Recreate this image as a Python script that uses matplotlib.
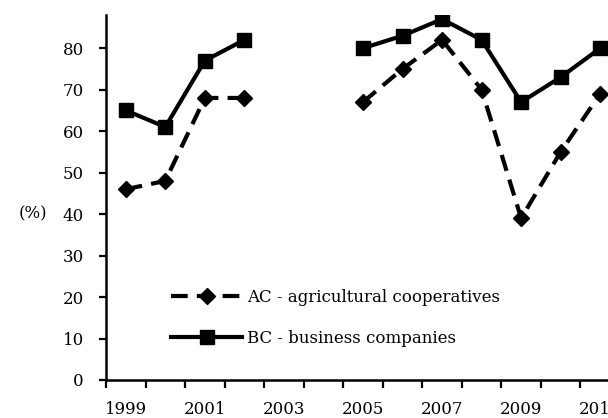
import numpy as np
import matplotlib
matplotlib.use('Agg')
import matplotlib.pyplot as plt

plt.rcParams['font.family'] = ['DejaVu Serif']

YEARS = list(range(1999, 2012))
# AC - agricultural cooperatives (no data for 2003, 2004)
AC = [46, 48, 68, 68, np.nan, np.nan, 67, 75, 82, 70, 39, 55, 69]
# BC - business companies
BC = [65, 61, 77, 82, np.nan, np.nan, 80, 83, 87, 82, 67, 73, 80]
YTICKS = [0, 10, 20, 30, 40, 50, 60, 70, 80]

FS = 12


def main():
    fig = plt.figure(figsize=(6.08, 4.18), dpi=100)
    ax = fig.add_axes([106 / 608, 38 / 418, 514 / 608, 365 / 418])

    x = np.arange(len(YEARS))
    ax.plot(x, AC, color='black', lw=3, dashes=(4, 2.2),
            marker='D', ms=8, label='AC - agricultural cooperatives')
    ax.plot(x, BC, color='black', lw=3,
            marker='s', ms=10.5, label='BC - business companies')

    ax.set_xlim(-0.5, len(YEARS) - 0.5)
    ax.set_ylim(0, 88)

    # tick marks at category boundaries, labels at category centres
    ax.set_xticks(np.arange(len(YEARS) + 1) - 0.5)
    ax.set_xticklabels([])
    ax.set_xticks(x[::2], minor=True)
    ax.set_xticklabels([str(y) for y in YEARS[::2]], minor=True)
    ax.tick_params(axis='x', which='major', direction='out', length=6, width=1.6)
    ax.tick_params(axis='x', which='minor', length=0, pad=15, labelsize=FS)

    ax.set_yticks(YTICKS)
    ax.tick_params(axis='y', direction='out', length=5, width=1.6, pad=11, labelsize=FS)

    for side in ('top', 'right'):
        ax.spines[side].set_visible(False)
    for side in ('left', 'bottom'):
        ax.spines[side].set_linewidth(1.8)

    ax.text(-0.142, 40, '(%)', transform=ax.get_yaxis_transform(),
            ha='center', va='center', fontsize=FS)

    ax.legend(loc='center left', bbox_to_anchor=(0.113, 0.17), frameon=False,
              handlelength=4.3, handletextpad=0.3, labelspacing=1.4,
              fontsize=FS, borderaxespad=0)

    fig.savefig('out.png', dpi=100)


if __name__ == '__main__':
    main()
